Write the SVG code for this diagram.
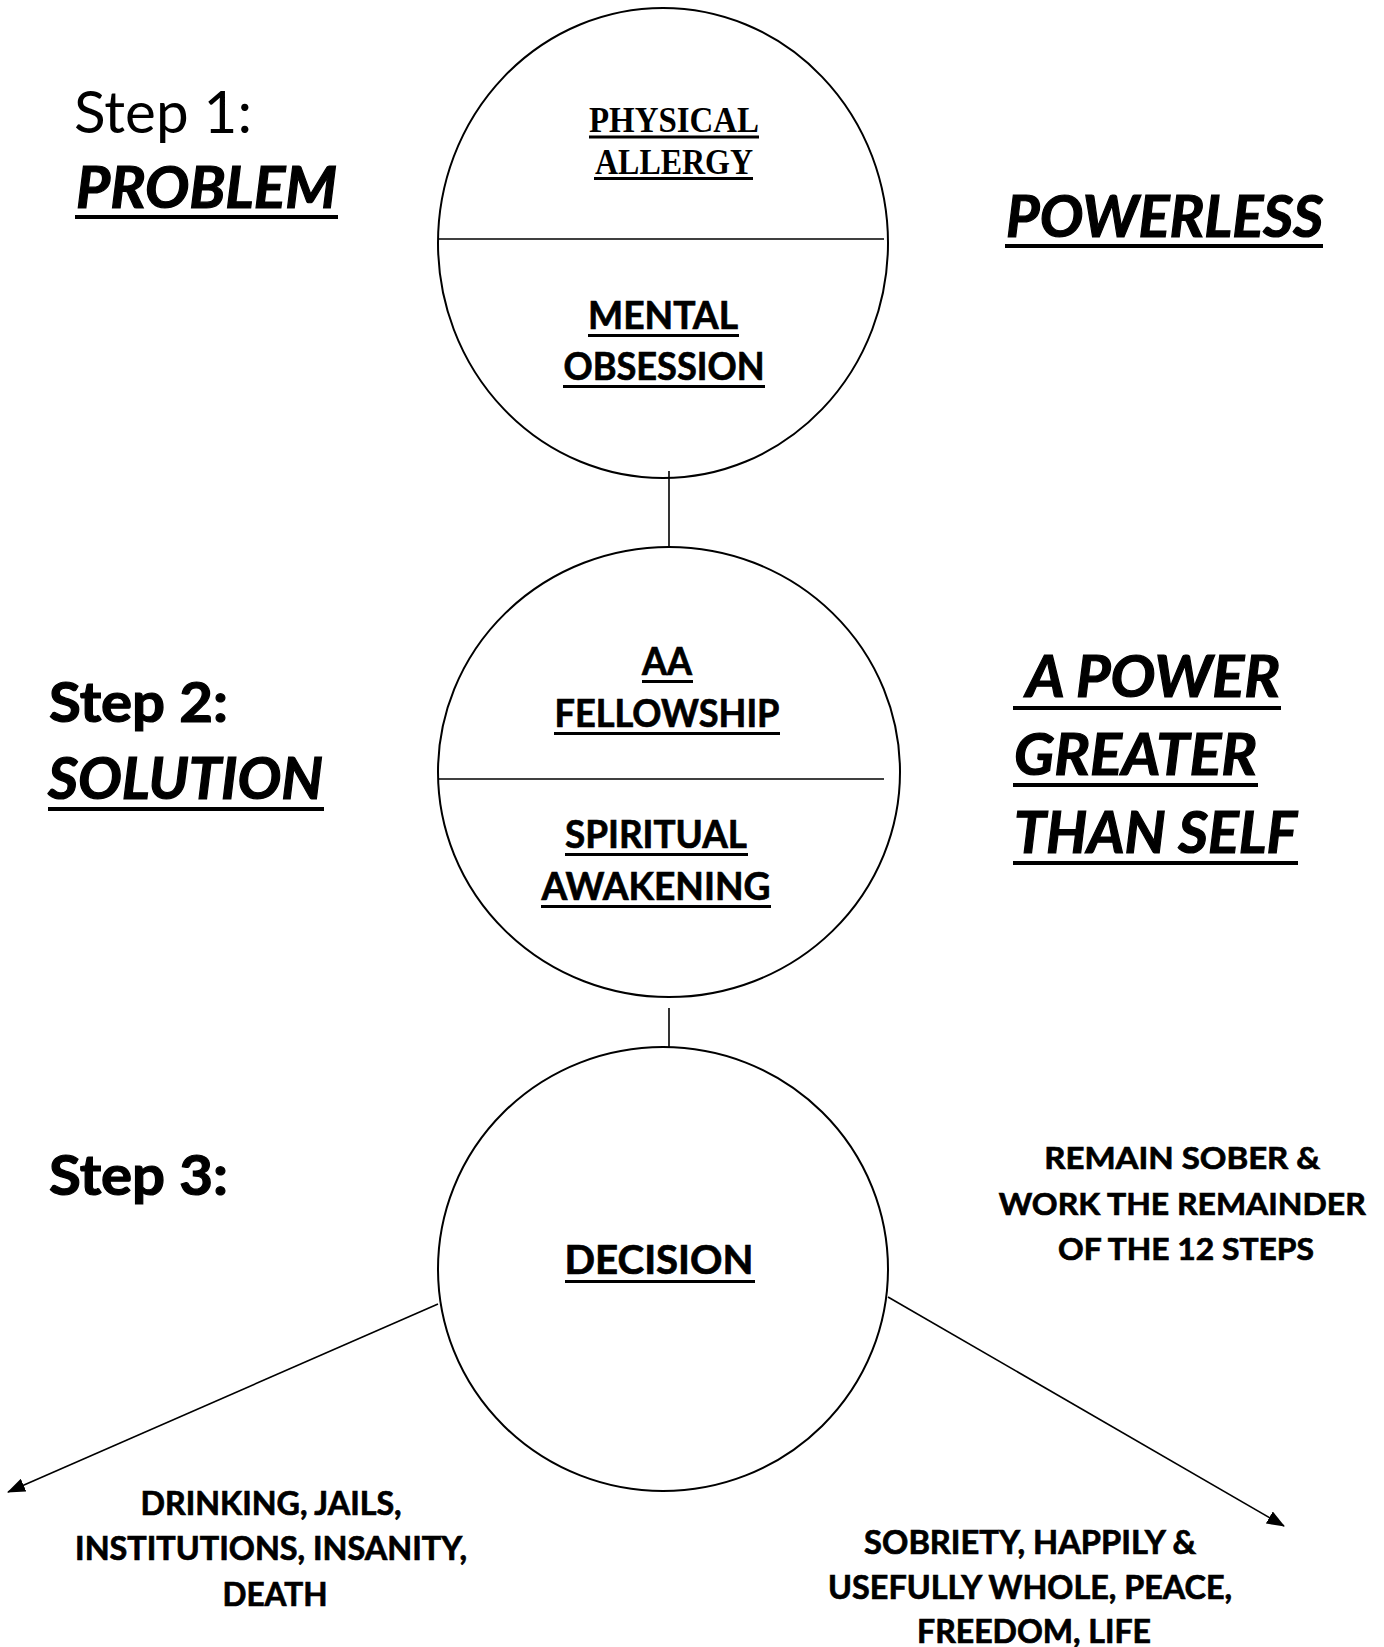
<svg xmlns="http://www.w3.org/2000/svg" width="1384" height="1647" viewBox="0 0 1384 1647">
<defs>
<style>
.c{fill:none;stroke:#000;stroke-width:2}
.d{stroke:#000;stroke-width:1.6}
.k{stroke:#000;stroke-width:1.6;fill:none}
.u{fill:#000}
.t{font-family:Lato,"Open Sans","Liberation Sans",sans-serif;fill:#000}
.b{font-weight:bold;stroke:#000;stroke-width:0.7}
.h{stroke-width:1.2}
.i{font-style:italic}
.s{font-family:"Liberation Serif",serif;font-weight:bold;fill:#000}
.m{text-anchor:middle}
</style>
<marker id="ah" viewBox="0 0 18 14" refX="17" refY="7" markerWidth="18" markerHeight="14" markerUnits="userSpaceOnUse" orient="auto">
<path d="M0,0 L18,7 L0,14 z" fill="#000"/>
</marker>
</defs>
<rect width="1384" height="1647" fill="#fff"/>

<g id="labels-left">
<text class="t" x="74" y="133" font-size="58" textLength="178" lengthAdjust="spacingAndGlyphs">Step 1:</text>
<text class="t b h i" x="76" y="208" font-size="58" textLength="261" lengthAdjust="spacingAndGlyphs">PROBLEM</text>
<rect class="u" x="75" y="215" width="263" height="4"/>
<text class="t b h" x="49" y="722" font-size="56" textLength="179" lengthAdjust="spacingAndGlyphs">Step 2:</text>
<text class="t b h i" x="48" y="799" font-size="58" textLength="275" lengthAdjust="spacingAndGlyphs">SOLUTION</text>
<rect class="u" x="48" y="807" width="276" height="4"/>
<text class="t b h" x="49" y="1195" font-size="56" textLength="179" lengthAdjust="spacingAndGlyphs">Step 3:</text>
</g>

<g id="labels-right">
<text class="t b h i" x="1006" y="237" font-size="58" textLength="317" lengthAdjust="spacingAndGlyphs">POWERLESS</text>
<rect class="u" x="1005" y="244" width="318" height="4"/>
<text class="t b h i" x="1026" y="697" font-size="58" textLength="254" lengthAdjust="spacingAndGlyphs">A POWER</text>
<rect class="u" x="1013" y="706" width="268" height="4"/>
<text class="t b h i" x="1014" y="775" font-size="58" textLength="243" lengthAdjust="spacingAndGlyphs">GREATER</text>
<rect class="u" x="1013" y="783" width="245" height="4"/>
<text class="t b h i" x="1014" y="853" font-size="58" textLength="283" lengthAdjust="spacingAndGlyphs">THAN SELF</text>
<rect class="u" x="1013" y="861" width="285" height="4"/>
<text class="t b m" font-size="31">
<tspan x="1186" y="1169" textLength="276" lengthAdjust="spacingAndGlyphs">REMAIN SOBER &amp;</tspan>
<tspan x="1186" y="1215" textLength="367" lengthAdjust="spacingAndGlyphs">WORK THE REMAINDER</tspan>
<tspan x="1186" y="1260" textLength="256" lengthAdjust="spacingAndGlyphs">OF THE 12 STEPS</tspan>
</text>
</g>

<g id="node-problem">
<ellipse class="c" cx="663" cy="243" rx="225" ry="235"/>
<line class="d" x1="438" y1="239" x2="884" y2="239"/>
<text class="s m" x="674" y="132" font-size="36" textLength="170" lengthAdjust="spacingAndGlyphs">PHYSICAL</text>
<rect class="u" x="589" y="135.5" width="170" height="3"/>
<text class="s m" x="674" y="174" font-size="36" textLength="158" lengthAdjust="spacingAndGlyphs">ALLERGY</text>
<rect class="u" x="594" y="177" width="159" height="3"/>
<text class="t b m" x="663" y="329" font-size="38" textLength="150" lengthAdjust="spacingAndGlyphs">MENTAL</text>
<rect class="u" x="588" y="334" width="151" height="3"/>
<text class="t b m" x="664" y="380" font-size="38" textLength="201" lengthAdjust="spacingAndGlyphs">OBSESSION</text>
<rect class="u" x="563" y="385" width="202" height="3"/>
</g>

<g id="node-solution">
<ellipse class="c" cx="669" cy="772" rx="231" ry="225"/>
<line class="d" x1="438" y1="779" x2="884" y2="779"/>
<text class="t b m" x="667" y="675" font-size="38" textLength="50" lengthAdjust="spacingAndGlyphs">AA</text>
<rect class="u" x="642" y="680" width="51" height="3"/>
<text class="t b m" x="667" y="727" font-size="38" textLength="225" lengthAdjust="spacingAndGlyphs">FELLOWSHIP</text>
<rect class="u" x="554" y="732" width="226" height="3"/>
<text class="t b m" x="656" y="848" font-size="38" textLength="182" lengthAdjust="spacingAndGlyphs">SPIRITUAL</text>
<rect class="u" x="565" y="853" width="183" height="3"/>
<text class="t b m" x="656" y="900" font-size="38" textLength="229" lengthAdjust="spacingAndGlyphs">AWAKENING</text>
<rect class="u" x="541" y="905" width="230" height="3"/>
</g>

<g id="node-decision">
<ellipse class="c" cx="663" cy="1269" rx="225" ry="222"/>
<text class="t b m" x="659" y="1274" font-size="40" textLength="189" lengthAdjust="spacingAndGlyphs">DECISION</text>
<rect class="u" x="565" y="1280" width="190" height="3"/>
</g>

<g id="labels-outcomes">
<text class="t b m" font-size="32">
<tspan x="275" y="1515" textLength="261" lengthAdjust="spacingAndGlyphs">DRINKING, JAILS,</tspan>
<tspan x="275" y="1560" textLength="392" lengthAdjust="spacingAndGlyphs">INSTITUTIONS, INSANITY,</tspan>
<tspan x="275" y="1606" textLength="105" lengthAdjust="spacingAndGlyphs">DEATH</tspan>
</text>
<text class="t b m" font-size="32">
<tspan x="1034" y="1554" textLength="332" lengthAdjust="spacingAndGlyphs">SOBRIETY, HAPPILY &amp;</tspan>
<tspan x="1034" y="1599" textLength="404" lengthAdjust="spacingAndGlyphs">USEFULLY WHOLE, PEACE,</tspan>
<tspan x="1034" y="1643" textLength="234" lengthAdjust="spacingAndGlyphs">FREEDOM, LIFE</tspan>
</text>
</g>

<g id="connectors">
<line class="k" x1="669" y1="471" x2="669" y2="547"/>
<line class="k" x1="669" y1="1008" x2="669" y2="1047"/>
<line class="k" x1="438" y1="1304" x2="8" y2="1492" marker-end="url(#ah)"/>
<line class="k" x1="888" y1="1297" x2="1284" y2="1526" marker-end="url(#ah)"/>
</g>
</svg>
